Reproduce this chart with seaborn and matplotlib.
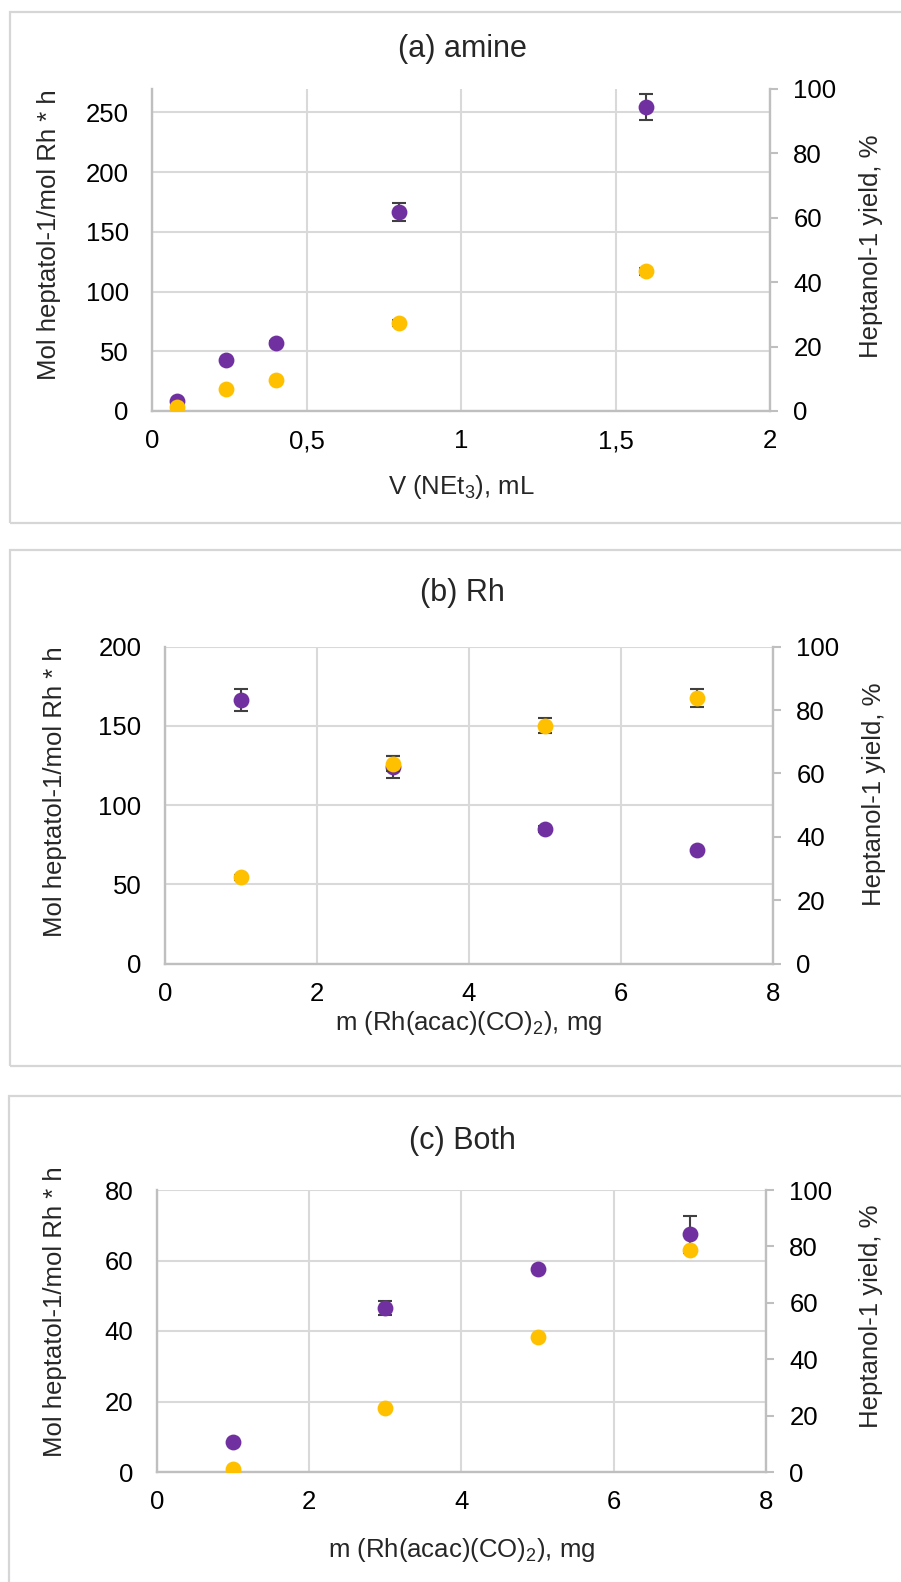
import matplotlib
matplotlib.use("Agg")
import matplotlib.pyplot as plt
import matplotlib.patches as mpatches
import seaborn as sns
import pandas as pd

# ---------------- data ----------------
# (a) amine
x_a = [0.08, 0.24, 0.40, 0.80, 1.60]
tof_a = [8.7, 42.7, 56.9, 166.8, 254.4]
tof_err_a = [0.0, 0.0, 1.5, 7.5, 11.0]
yield_a = [1.3, 6.9, 9.5, 27.3, 43.3]
yield_err_a = [0.0, 0.0, 0.0, 0.8, 1.2]

# (b) Rh
x_b = [1, 3, 5, 7]
tof_b = [166.5, 124.0, 84.8, 71.6]
tof_err_b = [7.0, 7.0, 2.0, 0.0]
yield_b = [27.2, 63.1, 75.1, 83.8]
yield_err_b = [0.8, 2.4, 2.4, 2.9]

# (c) Both
x_c = [1, 3, 5, 7]
tof_c = [8.45, 46.4, 57.7, 67.4]
tof_err_c = [0.0, 2.0, 0.0, 5.2]
yield_c = [1.1, 22.6, 47.9, 78.8]
yield_err_c = [0.0, 0.0, 0.0, 0.0]

titles = ["(a) amine", "(b) Rh", "(c) Both"]
xlabels = ["V (NEt$_3$), mL", "m (Rh(acac)(CO)$_2$), mg", "m (Rh(acac)(CO)$_2$), mg"]
ylabel_left = "Mol heptatol-1/mol Rh * h"
ylabel_right = "Heptanol-1 yield, %"

xticks_a = [0, 0.5, 1, 1.5, 2]
xticklabels_a = ["0", "0,5", "1", "1,5", "2"]
xticks_bc = [0, 2, 4, 6, 8]
xticklabels_bc = ["0", "2", "4", "6", "8"]
yticks_left_a = [0, 50, 100, 150, 200, 250]
yticks_left_b = [0, 50, 100, 150, 200]
yticks_left_c = [0, 20, 40, 60, 80]
yticks_right = [0, 20, 40, 60, 80, 100]
ylim_left = [270, 200, 80]
xlims = [2, 8, 8]

PURPLE = "#7030A0"
YELLOW = "#FFC000"
ERR = "#404040"
GRID = "#d9d9d9"
SPINE = "#bfbfbf"

sns.set_style("white")
plt.rcParams["font.family"] = ["Liberation Sans", "DejaVu Sans"]
plt.rcParams["mathtext.fontset"] = "custom"
plt.rcParams["mathtext.rm"] = "Liberation Sans"
plt.rcParams["mathtext.it"] = "Liberation Sans"

W, H = 901, 1582
fig = plt.figure(figsize=(W / 100, H / 100), dpi=100)

# panel frames (px: left, top, bottom)
frames = [(10, 12, 523), (10, 550, 1066), (9, 1096, 1600)]
for (l, t, b) in frames:
    fig.patches.append(mpatches.Rectangle((l / W, 1 - b / H), (W + 10 - l) / W, (b - t) / H,
                                          transform=fig.transFigure, fill=False,
                                          edgecolor="#d6d6d6", linewidth=1.6))

# axes geometry in px: left, right, top, bottom
geoms = [(152.3, 770, 88.6, 411), (165, 773, 646.6, 963.7), (156.9, 766, 1190, 1472)]
title_y = [49, 593, 1141]
xlabel_y = [487, 1023, 1550]
ylab_left_x = [49, 55, 55]
ylab_left_y = [235, 792, 1312]
ylab_right_x = [871, 874, 871]
ylab_right_y = [246, 794, 1316]

panels = [
    (x_a, tof_a, tof_err_a, yield_a, yield_err_a, xticks_a, xticklabels_a, yticks_left_a),
    (x_b, tof_b, tof_err_b, yield_b, yield_err_b, xticks_bc, xticklabels_bc, yticks_left_b),
    (x_c, tof_c, tof_err_c, yield_c, yield_err_c, xticks_bc, xticklabels_bc, yticks_left_c),
]

FS = 18.5
for i, (xs, tof, tof_err, yl, yl_err, xt, xtl, ytl) in enumerate(panels):
    l, r, t, b = geoms[i]
    ax = fig.add_axes([l / W, 1 - b / H, (r - l) / W, (b - t) / H])
    ax2 = ax.twinx()

    df = pd.DataFrame({"x": xs, "tof": tof, "tof_err": tof_err, "yield": yl, "yield_err": yl_err})

    # primary series
    ax.errorbar(df["x"], df["tof"], yerr=df["tof_err"], fmt="none", ecolor=ERR,
                elinewidth=1.5, capsize=5, capthick=1.5, zorder=2)
    sns.scatterplot(data=df, x="x", y="tof", ax=ax, color=PURPLE, s=130,
                    linewidth=0, zorder=3, legend=False)
    # secondary series
    ax2.errorbar(df["x"], df["yield"], yerr=df["yield_err"], fmt="none", ecolor=ERR,
                 elinewidth=1.5, capsize=5, capthick=1.5, zorder=2)
    sns.scatterplot(data=df, x="x", y="yield", ax=ax2, color=YELLOW, s=130,
                    linewidth=0, zorder=3, legend=False)

    ax.set_xlim(0, xlims[i])
    ax.set_ylim(0, ylim_left[i])
    ax2.set_ylim(0, 100)
    ax.set_xticks(xt)
    ax.set_xticklabels(xtl)
    ax.set_yticks(ytl)
    ax2.set_yticks(yticks_right)

    ax.grid(True, color=GRID, linewidth=1.5)
    ax.set_axisbelow(True)
    ax2.grid(False)

    for a in (ax, ax2):
        a.spines["top"].set_visible(False)
        for s in ("left", "right", "bottom"):
            a.spines[s].set_color(SPINE)
            a.spines[s].set_linewidth(1.7)
    ax.spines["right"].set_visible(False)
    ax2.spines["left"].set_visible(False)
    ax2.spines["bottom"].set_visible(False)

    ax.tick_params(axis="x", length=0, pad=13, labelsize=FS, colors="black")
    ax.tick_params(axis="y", length=0, pad=17, labelsize=FS, colors="black")
    ax2.tick_params(axis="y", length=5.8, width=1.5, color=SPINE, pad=11,
                    labelsize=FS, labelcolor="black", direction="out")

    ax.set_xlabel(xlabels[i], fontsize=FS, va="center")
    ax.xaxis.set_label_coords(0.5, -(xlabel_y[i] - b) / (b - t))
    ax.set_ylabel(ylabel_left, fontsize=FS, va="center")
    ax.yaxis.set_label_coords((ylab_left_x[i] - l) / (r - l), (b - ylab_left_y[i]) / (b - t))
    ax2.set_ylabel(ylabel_right, fontsize=FS, va="center", rotation=90)
    ax2.yaxis.set_label_coords((ylab_right_x[i] - l) / (r - l), (b - ylab_right_y[i]) / (b - t))

    fig.text(462 / W, 1 - title_y[i] / H, titles[i], fontsize=22, ha="center", va="center")

fig.savefig("out.png", dpi=100, facecolor="white")
